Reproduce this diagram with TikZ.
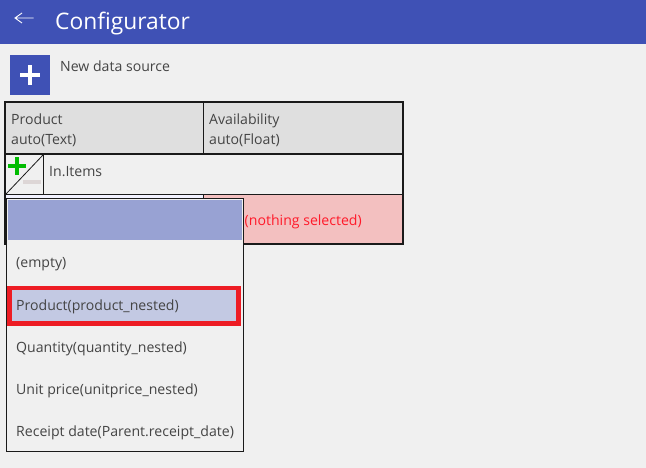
\documentclass[tikz,border=0pt]{standalone}
\usepackage{fontspec}
\setmainfont{Open Sans}
\usetikzlibrary{calc,positioning}
\definecolor{barblue}{HTML}{3F51B5}
\definecolor{headgrey}{HTML}{DFDFDF}
\definecolor{pagegrey}{HTML}{F0F0F0}
\definecolor{linedark}{HTML}{1A1A1A}
\definecolor{textdark}{HTML}{444444}
\definecolor{errfill}{HTML}{F3C0C0}
\definecolor{errtext}{HTML}{FF1A2A}
\definecolor{popblue}{HTML}{98A2D3}
\definecolor{selblue}{HTML}{C3C9E3}
\definecolor{selred}{HTML}{ED1C24}
\definecolor{plusgreen}{HTML}{00BB00}
\definecolor{minusgrey}{HTML}{DDD6D6}
\tikzset{lab/.style={anchor=base west,inner sep=0pt,text=textdark,font=\fontsize{14.1}{17}\selectfont},
         tline/.style={draw=linedark,line width=1.2pt},
         tframe/.style={draw=linedark,line width=2pt}}

\begin{document}
\begin{tikzpicture}[x=1pt,y=-1pt]
\useasboundingbox (0,0) rectangle (646,468);

% Page and title bar
\fill[pagegrey] (0,0) rectangle (646,468);
\fill[barblue] (0,0) rectangle (646,44);
\coordinate (backtip) at (15,18);
\coordinate (backend) at (33.5,18);
\draw[white,line width=0.9pt] (backend) -- (backtip) (22,13) -- (backtip) -- (22,23);
\node[anchor=base west,inner sep=0pt,text=white,font=\fontsize{22.8}{27}\selectfont] (title) at (55,30) {Configurator};

% New data source
\fill[barblue] (10,55) rectangle (50,95);
\fill[white] (20,73) rectangle (40,77.5);
\fill[white] (27.8,65) rectangle (32.2,85);
\node[lab] (newsrc) at (60,72) {New data source};

% Table
\fill[headgrey] (5,102) rectangle (403,154);
\fill[errfill] (204,195) rectangle (402,243);
\fill[blue!5] (6,195) rectangle (203,199);
\draw[tline] (203.5,102) -- (203.5,154);
\draw[tline] (5,194.5) -- (403,194.5);
\draw[tline] (203.5,194.5) -- (203.5,243);
\draw[tline] (43.5,154) -- (43.5,194.5);
\draw[line width=0.8pt,draw=linedark] (6,194) -- (43,155);
\draw[tframe] (5,154) -- (403,154);
\draw[tframe] (5,102) rectangle (403,244);

\node[lab] (prod) at (11,125) {Product};
\node[lab] (prodtype) at (11,145) {auto(Text)};
\node[lab] (avail) at (209,125) {Availability};
\node[lab] (availtype) at (209,145) {auto(Float)};
\node[lab] (items) at (49,177) {In.Items};
\node[lab,text=errtext] (nosel) at (244.5,225.5) {(nothing selected)};

% Add and remove marks
\fill[plusgreen] (8,164) rectangle (26,168);
\fill[plusgreen] (15,157) rectangle (19,175);
\fill[minusgrey] (23,180) rectangle (41,184);

% Drop down
\fill[pagegrey,draw=linedark,line width=0.8pt] (6.5,198.5) rectangle (243.5,451.5);
\fill[popblue] (8,200) rectangle (242,240);
\fill[selred] (7,286) rectangle (241,325.5);
\fill[selblue] (12,290) rectangle (236,321);

\node[lab] (opt0) at (16,268) {(empty)};
\node[lab] (opt1) at (16,310) {Product(product\_nested)};
\node[lab] (opt2) at (16,352) {Quantity(quantity\_nested)};
\node[lab] (opt3) at (16,394) {Unit price(unitprice\_nested)};
\node[lab] (opt4) at (16,436) {Receipt date(Parent.receipt\_date)};

\end{tikzpicture}
\end{document}
